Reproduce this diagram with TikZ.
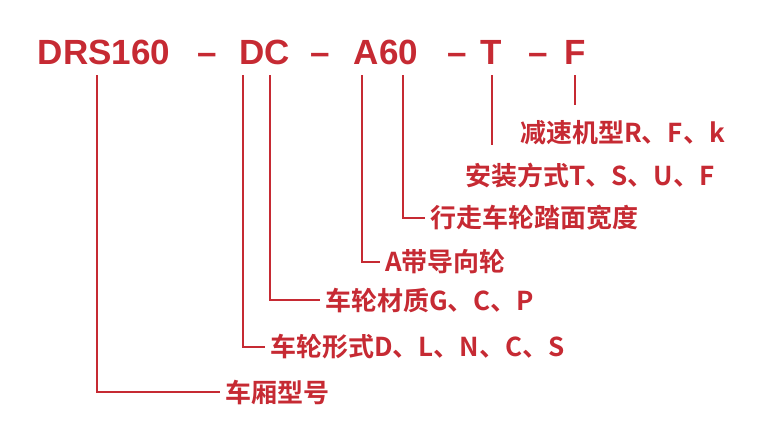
\documentclass[tikz,border=0pt]{standalone}
\usepackage{fontspec}
\setmainfont{Liberation Sans}
\newfontfamily\cjk{Noto Sans CJK SC}[BoldFont={Noto Sans CJK SC Bold}]
\definecolor{red1}{HTML}{C62A33}
\begin{document}
\begin{tikzpicture}[x=1pt,y=-1pt,
  lbl/.style={anchor=west,inner sep=0pt,text=red1,font=\cjk\bfseries\fontsize{26}{26}\selectfont},
  ttl/.style={anchor=base,inner sep=0pt,text=red1,font=\bfseries\fontsize{35}{35}\selectfont},
  ln/.style={draw=red1,line width=2pt}]
\useasboundingbox (0,0) rectangle (757,421);
\node[ttl] (t1) at (104,64) {DRS160};
\node[ttl] (d1) at (207,64) {–};
\node[ttl] (t2) at (265,64) {DC};
\node[ttl] (d2) at (320,64) {–};
\node[ttl] (t3) at (386,64) {A60};
\node[ttl] (d3) at (457,64) {–};
\node[ttl] (t4) at (491,64) {T};
\node[ttl] (d4) at (538,64) {–};
\node[ttl] (t5) at (575,64) {F};
\node[lbl] (l1) at (225,392) {车厢型号};
\node[lbl] (l2) at (270,347) {车轮形式D、L、N、C、S};
\node[lbl] (l3) at (325,300) {车轮材质G、C、P};
\node[lbl] (l4) at (385,262) {A带导向轮};
\node[lbl] (l5) at (430,218) {行走车轮踏面宽度};
\node[lbl] (l6) at (465,176) {安装方式T、S、U、F};
\node[lbl] (l7) at (520,133) {减速机型R、F、k};
\coordinate (a1) at (97,75); \coordinate (b1) at (97,392);
\coordinate (a2) at (243,75); \coordinate (b2) at (243,347);
\coordinate (a3) at (270,75); \coordinate (b3) at (270,300);
\coordinate (a4) at (362,75); \coordinate (b4) at (362,262);
\coordinate (a5) at (403,75); \coordinate (b5) at (403,218);
\coordinate (a6) at (492,75); \coordinate (b6) at (492,145);
\coordinate (a7) at (575,75); \coordinate (b7) at (575,105);
\draw[ln] (a1) -- (b1) -- ([xshift=-5pt]l1.west);
\draw[ln] (a2) -- (b2) -- ([xshift=-5pt]l2.west);
\draw[ln] (a3) -- (b3) -- ([xshift=-5pt]l3.west);
\draw[ln] (a4) -- (b4) -- ([xshift=-5pt]l4.west);
\draw[ln] (a5) -- (b5) -- ([xshift=-5pt]l5.west);
\draw[ln] (a6) -- (b6);
\draw[ln] (a7) -- (b7);
\end{tikzpicture}
\end{document}
